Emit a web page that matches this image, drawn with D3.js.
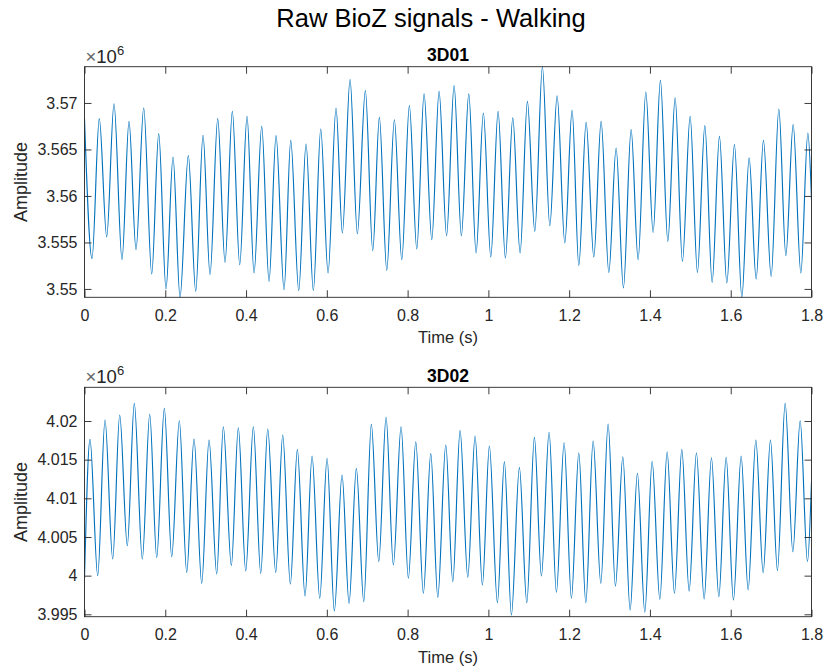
<!DOCTYPE html>
<html>
<head>
<meta charset="utf-8">
<script src="https://cdn.jsdelivr.net/npm/d3@7"></script>
<style>
  html, body { margin: 0; padding: 0; background: #ffffff; }
  svg { display: block; font-family: "Liberation Sans", Arial, Helvetica, sans-serif; }
</style>
</head>
<body>
<svg id="chart" width="824" height="671"></svg>
<script>
// ---------------- DATA (amplitudes in units of 10^6) ----------------
const figureTitle = "Raw BioZ signals - Walking";
const panelTitles = ["3D01", "3D02"];
const xLabel = "Time (s)";
const yLabel = "Amplitude";
const exponent = 6;

const xTicks = [0, 0.2, 0.4, 0.6, 0.8, 1, 1.2, 1.4, 1.6, 1.8];
const xLim = [0, 1.8];

const yTicks1 = [3.55, 3.555, 3.56, 3.565, 3.57];
const yLim1 = [3.5491, 3.5739];
const yTicks2 = [3.995, 4, 4.005, 4.01, 4.015, 4.02];
const yLim2 = [3.99469, 4.02436];

// Signal 3D01: successive peaks / troughs
const time1 = [0, 0.01857, 0.03665, 0.05498, 0.07306, 0.09287, 0.11020, 0.12754, 0.14661, 0.16642,
  0.18375, 0.20183, 0.21917, 0.23650, 0.25706, 0.27538, 0.29346, 0.31080, 0.32987, 0.34795,
  0.36602, 0.38435, 0.40243, 0.41976, 0.43883, 0.45691, 0.47424, 0.49406, 0.51065, 0.53046,
  0.54854, 0.56662, 0.58494, 0.60302, 0.62283, 0.63844, 0.65750, 0.67558, 0.69539, 0.71372,
  0.73006, 0.74839, 0.76721, 0.78554, 0.80436, 0.82268, 0.84076, 0.85983, 0.87791, 0.89648,
  0.91506, 0.93313, 0.95146, 0.96954, 0.98762, 1.00594, 1.02402, 1.04210, 1.06043, 1.07850,
  1.09658, 1.11491, 1.13373, 1.15206, 1.17013, 1.18920, 1.20728, 1.22387, 1.24195, 1.26102,
  1.27910, 1.29817, 1.31625, 1.33432, 1.35339, 1.37073, 1.38980, 1.40788, 1.42595, 1.44428,
  1.46236, 1.48043, 1.49950, 1.51758, 1.53591, 1.55399, 1.57206, 1.59039, 1.60921, 1.62754,
  1.64562, 1.66295, 1.68103, 1.70010, 1.71917, 1.73650, 1.75458, 1.77365, 1.79099, 1.8];
const amp1 = [3.56831, 3.55326, 3.56831, 3.55559, 3.56992, 3.55315, 3.56802, 3.55423, 3.56946, 3.55161,
  3.56670, 3.55000, 3.56419, 3.54910, 3.56433, 3.54974, 3.56652, 3.55154, 3.56831, 3.55286,
  3.56910, 3.55261, 3.56856, 3.55172, 3.56748, 3.55082, 3.56648, 3.54992, 3.56598, 3.54982,
  3.56559, 3.54982, 3.56720, 3.55172, 3.56946, 3.55602, 3.57251, 3.55595, 3.57132, 3.55412,
  3.56845, 3.55200, 3.56820, 3.55315, 3.56971, 3.55430, 3.57097, 3.55530, 3.57125, 3.55573,
  3.57186, 3.55573, 3.57097, 3.55387, 3.56892, 3.55344, 3.56910, 3.55333, 3.56839, 3.55387,
  3.57017, 3.55619, 3.57390, 3.55681, 3.57078, 3.55495, 3.56920, 3.55250, 3.56791, 3.55344,
  3.56802, 3.55178, 3.56516, 3.55011, 3.56713, 3.55315, 3.57118, 3.55609, 3.57243, 3.55512,
  3.57054, 3.55297, 3.56856, 3.55178, 3.56756, 3.55071, 3.56641, 3.55065, 3.56552, 3.54910,
  3.56409, 3.55107, 3.56598, 3.55135, 3.56935, 3.55358, 3.56767, 3.55172, 3.56677, 3.55960];

// Signal 3D02: successive troughs / peaks
const time2 = [0, 0.01362, 0.03269, 0.05077, 0.06984, 0.08717, 0.10599, 0.12333, 0.14314, 0.16147,
  0.17880, 0.19762, 0.21595, 0.23477, 0.25310, 0.27117, 0.29024, 0.30832, 0.32739, 0.34373,
  0.36355, 0.38088, 0.39921, 0.41803, 0.43636, 0.45369, 0.47350, 0.49084, 0.50966, 0.52699,
  0.54606, 0.56340, 0.58247, 0.60055, 0.61862, 0.63769, 0.65503, 0.67311, 0.69143, 0.71025,
  0.72858, 0.74666, 0.76474, 0.78380, 0.80188, 0.82021, 0.83903, 0.85736, 0.87469, 0.89450,
  0.91184, 0.92992, 0.94899, 0.96706, 0.98514, 1.00248, 1.02229, 1.03962, 1.05696, 1.07677,
  1.09510, 1.11392, 1.13125, 1.15032, 1.16840, 1.18747, 1.20555, 1.22387, 1.24121, 1.25929,
  1.27836, 1.29643, 1.31451, 1.33284, 1.35091, 1.36899, 1.38732, 1.40540, 1.42447, 1.44254,
  1.46062, 1.47895, 1.49703, 1.51511, 1.53417, 1.55225, 1.57058, 1.58866, 1.60674, 1.62580,
  1.64314, 1.66221, 1.68029, 1.69837, 1.71570, 1.73477, 1.75384, 1.77192, 1.78999, 1.8];
const amp2 = [3.99970, 4.01763, 3.99999, 4.02013, 4.00215, 4.02078, 4.00387, 4.02229, 4.00215, 4.02087,
  4.00232, 4.02164, 4.00245, 4.02004, 4.00043, 4.01767, 3.99901, 4.01754, 4.00021, 4.01926,
  4.00129, 4.01913, 4.00060, 4.01926, 4.00030, 4.01897, 4.00043, 4.01819, 3.99892, 4.01634,
  3.99737, 4.01547, 3.99707, 4.01518, 3.99543, 4.01302, 3.99642, 4.01388, 3.99663, 4.01957,
  4.00180, 4.02048, 4.00138, 4.01926, 3.99966, 4.01732, 3.99772, 4.01582, 3.99720, 4.01690,
  3.99922, 4.01875, 3.99979, 4.01806, 3.99879, 4.01677, 3.99650, 4.01474, 3.99491, 4.01401,
  3.99650, 4.01789, 3.99995, 4.01854, 3.99785, 4.01719, 3.99707, 4.01590, 3.99650, 4.01741,
  3.99901, 4.01961, 3.99866, 4.01538, 3.99556, 4.01324, 3.99526, 4.01479, 3.99694, 4.01603,
  3.99772, 4.01634, 3.99801, 4.01590, 3.99698, 4.01525, 3.99728, 4.01531, 3.99685, 4.01547,
  3.99814, 4.01754, 4.00038, 4.01754, 4.00064, 4.02229, 4.00310, 4.02004, 4.00180, 4.01215];

// ---------------- DRAWING ----------------
const svg = d3.select("#chart");
const axisColor = "#262626";
const lineColor = "#0072BD";
const tickFont = 16, xLabelFont = 16.5, yLabelFont = 18, subTitleFont = 17.5, titleFont = 25.5;

const panels = [
  { title: panelTitles[0], time: time1, amp: amp1, yTicks: yTicks1, yLim: yLim1, top: 66.7, bottom: 297.3 },
  { title: panelTitles[1], time: time2, amp: amp2, yTicks: yTicks2, yLim: yLim2, top: 387.3, bottom: 616.7 }
];
const left = 84.5, right = 811.5;

svg.append("text")
  .attr("x", 431).attr("y", 26.5)
  .attr("text-anchor", "middle")
  .attr("font-size", titleFont)
  .attr("fill", "#000")
  .text(figureTitle);

const fmt = v => String(+v.toFixed(4));

panels.forEach((p, i) => {
  const x = d3.scaleLinear().domain(xLim).range([left, right]);
  const y = d3.scaleLinear().domain(p.yLim).range([p.bottom, p.top]);
  const g = svg.append("g");

  const clipId = "clip" + i;
  svg.append("clipPath").attr("id", clipId)
    .append("rect").attr("x", left).attr("y", p.top - 0.5)
    .attr("width", right - left).attr("height", p.bottom - p.top + 1);

  // signal
  const pts = p.time.map((t, k) => [t, p.amp[k]]);
  g.append("path")
    .datum(pts)
    .attr("clip-path", `url(#${clipId})`)
    .attr("fill", "none")
    .attr("stroke", lineColor)
    .attr("stroke-width", 1.15)
    .attr("stroke-linejoin", "round")
    .attr("d", d3.line().x(d => x(d[0])).y(d => y(d[1])).curve(d3.curveMonotoneX));

  // axes
  const styleAxis = sel => {
    sel.select(".domain").remove();
    sel.selectAll(".tick line").attr("stroke", axisColor).attr("stroke-width", 0.9);
    sel.selectAll(".tick text").attr("fill", axisColor).attr("font-size", tickFont)
      .attr("font-family", "Liberation Sans, Arial, sans-serif");
  };
  g.append("g").attr("transform", `translate(0,${p.bottom})`)
    .call(d3.axisBottom(x).tickValues(xTicks).tickFormat(fmt).tickSizeInner(-7).tickSizeOuter(0).tickPadding(12))
    .call(styleAxis);
  g.append("g").attr("transform", `translate(0,${p.top})`)
    .call(d3.axisTop(x).tickValues(xTicks).tickFormat("").tickSizeInner(-7).tickSizeOuter(0))
    .call(styleAxis);
  g.append("g").attr("transform", `translate(${left},0)`)
    .call(d3.axisLeft(y).tickValues(p.yTicks).tickFormat(fmt).tickSizeInner(-7).tickSizeOuter(0).tickPadding(7))
    .call(styleAxis);
  g.append("g").attr("transform", `translate(${right},0)`)
    .call(d3.axisRight(y).tickValues(p.yTicks).tickFormat("").tickSizeInner(-7).tickSizeOuter(0))
    .call(styleAxis);

  // box
  g.append("rect")
    .attr("x", left).attr("y", p.top)
    .attr("width", right - left).attr("height", p.bottom - p.top)
    .attr("fill", "none").attr("stroke", axisColor).attr("stroke-width", 0.9);

  // panel title
  g.append("text")
    .attr("x", (left + right) / 2).attr("y", p.top - 5.5)
    .attr("text-anchor", "middle")
    .attr("font-size", subTitleFont).attr("font-weight", "bold")
    .attr("fill", "#000")
    .text(p.title);

  // exponent label
  const ex = g.append("text")
    .attr("x", left + 1).attr("y", p.top - 4)
    .attr("font-size", 18.5).attr("fill", axisColor);
  ex.append("tspan").attr("fill", "#666").text("\u00d7");
  ex.append("tspan").text("10");
  ex.append("tspan").attr("dy", -8).attr("font-size", 13).text(exponent);

  // axis labels
  g.append("text")
    .attr("x", (left + right) / 2).attr("y", p.bottom + 46)
    .attr("text-anchor", "middle")
    .attr("font-size", xLabelFont).attr("fill", axisColor)
    .text(xLabel);
  g.append("text")
    .attr("transform", `translate(27,${(p.top + p.bottom) / 2}) rotate(-90)`)
    .attr("text-anchor", "middle")
    .attr("font-size", yLabelFont).attr("fill", axisColor)
    .text(yLabel);
});
</script>
</body>
</html>
